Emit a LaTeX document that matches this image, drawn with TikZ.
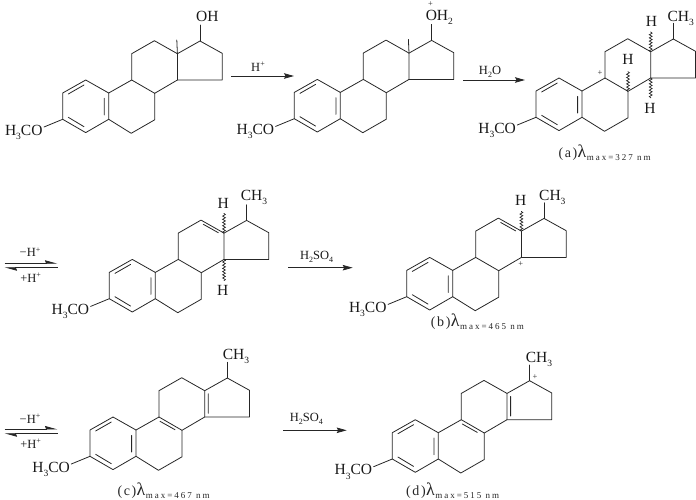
\documentclass[tikz,border=0pt]{standalone}
\usepackage{fontspec}
\setmainfont{Liberation Serif}
\newfontfamily\capfont[LetterSpace=22]{Liberation Serif}
\usetikzlibrary{arrows.meta,decorations.pathmorphing}
\newcommand{\chsub}[1]{\raisebox{-0.28em}{\fontsize{9.5}{9.5}\selectfont #1}}
\newcommand{\smsub}[1]{\raisebox{-0.25em}{\fontsize{8}{8}\selectfont #1}}
\newcommand{\chsup}[1]{\raisebox{0.35em}{\fontsize{8}{8}\selectfont #1}}
\newcommand{\lamcap}[2]{{\fontsize{14}{14}\selectfont(\hspace{1.6pt}#1\hspace{1.6pt})}\hspace{0.5pt}{\fontsize{18}{18}\selectfont λ}\hspace{0.5pt}{\capfont\fontsize{9}{9}\selectfont\raisebox{-3.2pt}{max=#2 nm}}}
\tikzset{
  bond/.style={line width=0.8pt,draw=black!85,line join=round,line cap=round},
  wavy/.style={line width=0.7pt,draw=black!85,decorate,decoration={snake,amplitude=1.4pt,segment length=3.2pt}},
  lab/.style={font=\fontsize{15.5}{15.5}\selectfont,inner sep=0pt,text=black!90},
  rlab/.style={font=\fontsize{12.5}{12.5}\selectfont,inner sep=0pt,text=black!90},
  pluslab/.style={font=\fontsize{8.5}{8.5}\selectfont,inner sep=0pt,text=black!85},
  caplab/.style={inner sep=0pt,anchor=base west,text=black!85},
  rxn/.style={line width=0.8pt,draw=black!85,-{Stealth[length=10pt,width=5.5pt,inset=1.5pt]}},
  eqf/.style={line width=0.8pt,draw=black!85,-{Stealth[length=11pt,width=6pt,inset=1pt,harpoon]}},
}
% #1 = prefix, #2 = x, #3 = y of C3
\newcommand{\steroid}[3]{%
\begin{scope}[shift={(#2,#3)}]
  \coordinate (#1c3) at (0,0);
  \coordinate (#1c2) at (0,-26.3);
  \coordinate (#1c1) at (23,-39.3);
  \coordinate (#1c10) at (46,-26.3);
  \coordinate (#1c5) at (46,0);
  \coordinate (#1c4) at (23,13.3);
  \coordinate (#1c9) at (69,-39.3);
  \coordinate (#1c8) at (92,-26);
  \coordinate (#1c7) at (92,0.5);
  \coordinate (#1c6) at (68.5,14);
  \coordinate (#1c11) at (69,-65.6);
  \coordinate (#1c12) at (91.7,-78.6);
  \coordinate (#1c13) at (114.7,-65.6);
  \coordinate (#1c14) at (114.7,-39.3);
  \coordinate (#1c15) at (159.5,-39.3);
  \coordinate (#1c16) at (159.5,-66);
  \coordinate (#1c17) at (137.3,-78.3);
  \coordinate (#1oend) at (-18.7,7.7);
  \coordinate (#1i1) at (5.6,-25.3);
  \coordinate (#1i2) at (21.3,-34.3);
  \coordinate (#1i3) at (5.6,-2);
  \coordinate (#1i4) at (21.3,7.4);
  \coordinate (#1i5) at (41.6,-21);
  \coordinate (#1i6) at (41.6,-4.3);
  \draw[bond] (#1c3) -- (#1c2) -- (#1c1) -- (#1c10) -- (#1c5) -- (#1c4) -- (#1c3);
  \draw[bond] (#1c10) -- (#1c9) -- (#1c8) -- (#1c7) -- (#1c6) -- (#1c5);
  \draw[bond] (#1c9) -- (#1c11) -- (#1c12) -- (#1c13) -- (#1c14) -- (#1c8);
  \draw[bond] (#1c13) -- (#1c17) -- (#1c16) -- (#1c15) -- (#1c14);
  \draw[bond] (#1i1) -- (#1i2) (#1i3) -- (#1i4) (#1i5) -- (#1i6);
  \draw[bond] (#1c3) -- (#1oend);
  \node[lab,anchor=base east] (#1oc) at (-20,15.7) {H\chsub{3}CO};
\end{scope}}
% methyl on C17
\newcommand{\chthree}[3]{%
\begin{scope}[shift={(#1c17)}]
  \coordinate (#1mend) at (0,-15.7);
  \draw[bond] (#1c17) -- (#1mend);
  \node[lab,anchor=base west] (#1me) at (#2,#3) {CH\chsub{3}};
\end{scope}}
\begin{document}
\begin{tikzpicture}[x=1pt,y=-1pt]
\useasboundingbox (0,0) rectangle (696,499);

% ---- molecule 1
\steroid{a}{62.7}{119.3}
\begin{scope}[shift={(ac17)}]
  \coordinate (aoh) at (0,-16);
  \node[lab,anchor=base west] (aohl) at (-4,-20) {OH};
\end{scope}
\draw[bond] (ac17) -- (aoh);
\begin{scope}[shift={(ac13)}]\coordinate (ame) at (-0.6,-13.7);\end{scope}
\draw[bond] (ac13) -- (ame);

% ---- molecule 2
\steroid{b}{294.3}{118.7}
\begin{scope}[shift={(bc17)}]
  \coordinate (boh) at (0,-16);
  \node[lab,anchor=base west] (bohl) at (-6,-20) {OH\chsub{2}};
  \node[pluslab] (bplus) at (-1,-36.5) {+};
\end{scope}
\draw[bond] (bc17) -- (boh);
\begin{scope}[shift={(bc13)}]\coordinate (bme) at (-0.6,-13.7);\end{scope}
\draw[bond] (bc13) -- (bme);

% ---- molecule 3 (a)
\steroid{c}{536}{117.3}
\chthree{c}{-6}{-17.6}
\begin{scope}[shift={(cc13)}]
  \coordinate (chu) at (0,-20);
  \node[lab] (chul) at (0.7,-30) {H};
\end{scope}
\begin{scope}[shift={(cc8)}]
  \coordinate (chm) at (0,-20);
  \node[lab] (chml) at (0,-32) {H};
\end{scope}
\begin{scope}[shift={(cc14)}]
  \coordinate (chd) at (0,20);
  \node[lab] (chdl) at (-0.7,30) {H};
\end{scope}
\draw[wavy] (cc13) -- (chu);
\draw[wavy] (cc8) -- (chm);
\draw[wavy] (cc14) -- (chd);
\node[pluslab] (cplus) at (600,72.7) {+};
\node[caplab] (ccap) at (558.3,157.7) {\lamcap{a}{327}};

% ---- molecule 4
\steroid{d}{109.3}{298.7}
\chthree{d}{-6}{-20}
\coordinate (di1) at (203.3,224.3);
\coordinate (di2) at (218.3,232.7);
\draw[bond] (di1) -- (di2);
\begin{scope}[shift={(dc13)}]
  \coordinate (dhu) at (0,-20);
  \node[lab] (dhul) at (-0.7,-29.5) {H};
  \coordinate (dhd) at (0,47.5);
  \node[lab] (dhdl) at (-1.3,57.3) {H};
\end{scope}
\draw[wavy] (dc13) -- (dhu);
\draw[wavy] (dc14) -- (dhd);

% ---- molecule 5 (b)
\steroid{e}{406.7}{296.7}
\chthree{e}{-5}{-18.4}
\begin{scope}[shift={(ec13)}]
  \coordinate (ei1) at (-20.7,-8.6);
  \coordinate (ei2) at (-5.7,-0.2);
  \coordinate (ehu) at (0,-20);
  \node[lab] (ehul) at (-0.7,-31) {H};
\end{scope}
\draw[bond] (ei1) -- (ei2);
\draw[wavy] (ec13) -- (ehu);
\node[pluslab] (eplus) at (520.7,264.3) {+};
\node[caplab] (ecap) at (430.7,326) {\lamcap{b}{465}};

% ---- molecule 6 (c)
\steroid{f}{90}{456.3}
\chthree{f}{-4.6}{-18.6}
\begin{scope}[shift={(fc3)}]
  \coordinate (fi7) at (70,-35);
  \coordinate (fi8) at (85,-26.6);
  \coordinate (fi9) at (118.3,-62.6);
  \coordinate (fi10) at (118.3,-43);
\end{scope}
\draw[bond] (fi7) -- (fi8) (fi9) -- (fi10);
\node[caplab] (fcap) at (117.3,495) {\lamcap{c}{467}};

% ---- molecule 7 (d)
\steroid{g}{392.3}{459}
\chthree{g}{-4}{-18.4}
\begin{scope}[shift={(gc3)}]
  \coordinate (gi7) at (70,-35);
  \coordinate (gi8) at (85,-26.6);
  \coordinate (gi9) at (118.3,-62.6);
  \coordinate (gi10) at (118.3,-43);
\end{scope}
\draw[bond] (gi7) -- (gi8) (gi9) -- (gi10);
\node[pluslab] (gplus) at (535,377.3) {+};
\node[caplab] (gcap) at (406,495) {\lamcap{d}{515}};

% ---- arrows
\coordinate (r1s) at (231,76);  \coordinate (r1e) at (294,76);
\draw[rxn] (r1s) -- (r1e);
\node[rlab,anchor=base] (r1l) at (258,71) {H\chsup{+}};

\coordinate (r2s) at (463,80);  \coordinate (r2e) at (525,80);
\draw[rxn] (r2s) -- (r2e);
\node[rlab,anchor=base] (r2l) at (490,74) {H\smsub{2}O};

\coordinate (q1a) at (4.5,263.3); \coordinate (q1b) at (57.5,263.3);
\coordinate (q1c) at (57.5,267.7); \coordinate (q1d) at (4.5,267.7);
\draw[eqf] (q1a) -- (q1b);
\draw[eqf] (q1c) -- (q1d);
\node[rlab,anchor=base] (q1t) at (30,256.7) {−H\chsup{+}};
\node[rlab,anchor=base] (q1u) at (30.7,282) {+H\chsup{+}};

\coordinate (r3s) at (288.3,267.7); \coordinate (r3e) at (352.7,267.7);
\draw[rxn] (r3s) -- (r3e);
\node[rlab,anchor=base] (r3l) at (316.7,259.3) {H\smsub{2}SO\smsub{4}};

\coordinate (q2a) at (4.5,429); \coordinate (q2b) at (57.5,429);
\coordinate (q2c) at (57.5,433.7); \coordinate (q2d) at (4.5,433.7);
\draw[eqf] (q2a) -- (q2b);
\draw[eqf] (q2c) -- (q2d);
\node[rlab,anchor=base] (q2t) at (30,423) {−H\chsup{+}};
\node[rlab,anchor=base] (q2u) at (30.7,448) {+H\chsup{+}};

\coordinate (r4s) at (283.3,430.3); \coordinate (r4e) at (346.7,430.3);
\draw[rxn] (r4s) -- (r4e);
\node[rlab,anchor=base] (r4l) at (306.3,421.3) {H\smsub{2}SO\smsub{4}};
\end{tikzpicture}
\end{document}
